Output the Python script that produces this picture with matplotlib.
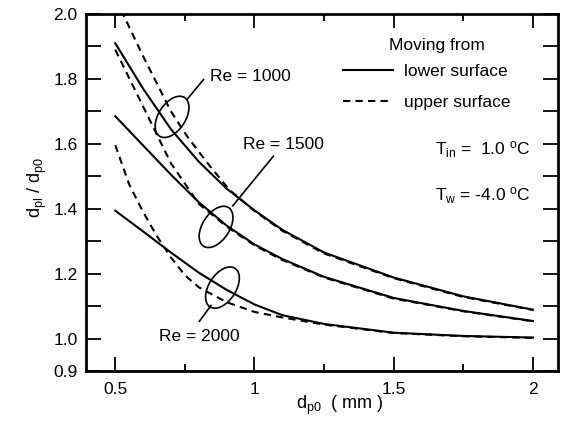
import matplotlib
matplotlib.use("Agg")
import matplotlib.pyplot as plt
from matplotlib.patches import Ellipse
from matplotlib.transforms import ScaledTranslation

plt.rcParams['font.family'] = ['Liberation Sans', 'DejaVu Sans']
plt.rcParams['mathtext.fontset'] = 'custom'
plt.rcParams['mathtext.rm'] = 'Liberation Sans'
plt.rcParams['mathtext.it'] = 'Liberation Sans'

# ---- data ----
x_1000_lo = [0.5, 0.6, 0.7, 0.8, 0.9, 1.0, 1.1, 1.25, 1.5, 1.75, 2.0]
y_1000_lo = [1.91, 1.77, 1.645, 1.545, 1.462, 1.395, 1.335, 1.265, 1.188, 1.13, 1.089]
x_1000_up = [0.5, 0.6, 0.7, 0.755, 0.827, 0.91, 1.0, 1.1, 1.25, 1.5, 1.75, 2.0]
y_1000_up = [2.05, 1.87, 1.70, 1.627, 1.545, 1.458, 1.393, 1.332, 1.262, 1.186, 1.128, 1.088]

x_1500_lo = [0.5, 0.6, 0.7, 0.8, 0.9, 1.0, 1.1, 1.25, 1.5, 1.75, 2.0]
y_1500_lo = [1.685, 1.595, 1.505, 1.42, 1.348, 1.29, 1.245, 1.19, 1.125, 1.085, 1.054]
x_1500_up = [0.5, 0.6, 0.7, 0.8, 0.9, 1.0, 1.1, 1.25, 1.5, 1.75, 2.0]
y_1500_up = [1.89, 1.715, 1.54, 1.415, 1.345, 1.287, 1.242, 1.188, 1.123, 1.084, 1.053]

x_2000_lo = [0.5, 0.6, 0.7, 0.8, 0.9, 1.0, 1.1, 1.25, 1.5, 1.75, 2.0]
y_2000_lo = [1.394, 1.33, 1.265, 1.203, 1.15, 1.105, 1.072, 1.045, 1.018, 1.008, 1.003]
x_2000_up = [0.5, 0.55, 0.6, 0.65, 0.7, 0.75, 0.8, 0.9, 1.0, 1.1, 1.25, 1.5, 1.75, 2.0]
y_2000_up = [1.596, 1.475, 1.39, 1.315, 1.25, 1.195, 1.158, 1.112, 1.082, 1.065, 1.043, 1.017, 1.007, 1.002]

# annotation: label, ellipse centre, leader line start/end, text position
re_labels = ["Re = 1000", "Re = 1500", "Re = 2000"]
ell_centres = [(0.704, 1.683), (0.862, 1.344), (0.885, 1.157)]
leader_from = [(0.757, 1.736), (0.922, 1.409), (0.844, 1.102)]
leader_to = [(0.817, 1.798), (1.068, 1.562), (0.802, 1.053)]
text_pos = [(0.841, 1.808), (0.959, 1.599), (0.658, 1.005)]

xticks = [0.5, 1, 1.5, 2]
xtick_labels = ["0.5", "1", "1.5", "2"]
yticks = [0.9, 1.0, 1.2, 1.4, 1.6, 1.8, 2.0]
ytick_labels = ["0.9", "1.0", "1.2", "1.4", "1.6", "1.8", "2.0"]

fs = 12.5
fig = plt.figure(figsize=(5.64, 4.24), dpi=100)
ax = fig.add_subplot(111)
fig.subplots_adjust(left=0.1525, right=0.9894, bottom=0.125, top=0.967)

lw = 1.5
dash = (0, (3.5, 2.5))
ax.plot(x_1000_lo, y_1000_lo, color='black', lw=lw, label='lower surface')
ax.plot(x_1000_up, y_1000_up, color='black', lw=lw, ls=dash, label='upper surface')
ax.plot(x_1500_lo, y_1500_lo, color='black', lw=lw)
ax.plot(x_1500_up, y_1500_up, color='black', lw=lw, ls=dash)
ax.plot(x_2000_lo, y_2000_lo, color='black', lw=lw)
ax.plot(x_2000_up, y_2000_up, color='black', lw=lw, ls=dash)

for lab, c, p0, p1, tp in zip(re_labels, ell_centres, leader_from, leader_to, text_pos):
    tr = fig.dpi_scale_trans + ScaledTranslation(c[0], c[1], ax.transData)
    ax.add_patch(Ellipse((0, 0), 0.46, 0.27, angle=57, transform=tr,
                         fill=False, ec='black', lw=1.2))
    ax.plot([p0[0], p1[0]], [p0[1], p1[1]], color='black', lw=1.2)
    ax.text(tp[0], tp[1], lab, fontsize=fs, ha='left', va='center')

ax.legend(loc='upper left', bbox_to_anchor=(0.53, 0.88), frameon=False,
          fontsize=fs, handlelength=2.9, handletextpad=0.6, labelspacing=0.9,
          borderaxespad=0)
ax.text(0.743, 0.913, 'Moving from', transform=ax.transAxes, fontsize=fs,
        ha='center', va='center')

ax.text(0.739, 0.619, r'T$_{\rm in}$ =  1.0 $^{\rm o}$C', transform=ax.transAxes,
        fontsize=fs, va='center')
ax.text(0.739, 0.490, r'T$_{\rm w}$ = -4.0 $^{\rm o}$C', transform=ax.transAxes,
        fontsize=fs, va='center')

ax.set_xlim(0.395, 2.09)
ax.set_ylim(0.9, 2.0)
ax.set_xticks(xticks)
ax.set_xticklabels(xtick_labels)
ax.set_xticks([0.75, 1.25, 1.75], minor=True)
ax.set_yticks(yticks)
ax.set_yticklabels(ytick_labels)
ax.set_yticks([1.1, 1.3, 1.5, 1.7, 1.9], minor=True)
ax.tick_params(which='both', direction='in', top=True, right=True, labelsize=fs, width=1.3)
ax.tick_params(axis='x', which='major', length=10, pad=8)
ax.tick_params(axis='x', which='minor', length=5)
ax.tick_params(axis='y', which='both', length=11, pad=6)
for s in ax.spines.values():
    s.set_linewidth(2)

ax.set_xlabel(r'd$_{\rm p0}$  ( mm )', fontsize=13)
ax.xaxis.set_label_coords(0.538, -0.065)
ax.set_ylabel(r'd$_{\rm pl}$ / d$_{\rm p0}$', fontsize=13)
ax.yaxis.set_label_coords(-0.078, 0.515)

fig.savefig('out.png', dpi=100)
